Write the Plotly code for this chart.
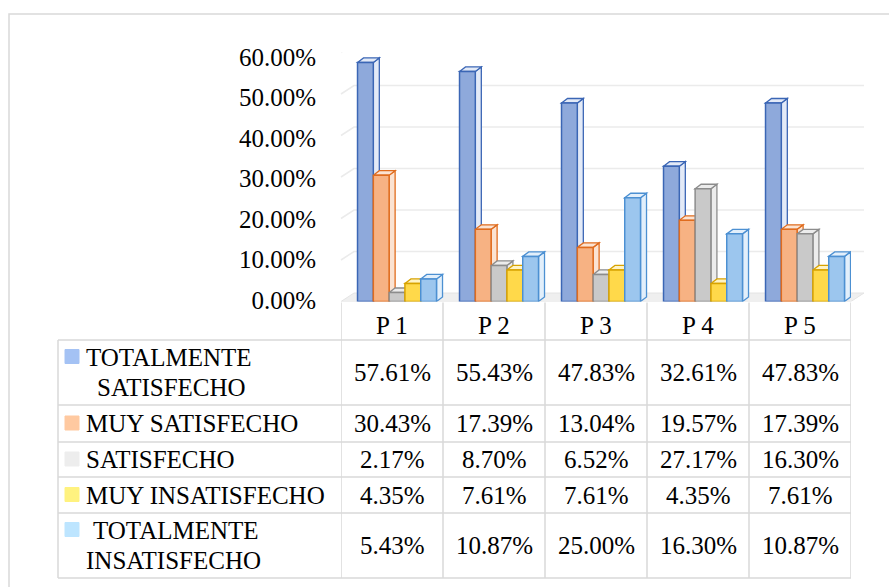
import plotly.graph_objects as go

# ---------------- data ----------------
categories = ["P 1", "P 2", "P 3", "P 4", "P 5"]
series_names = ["TOTALMENTE SATISFECHO", "MUY SATISFECHO", "SATISFECHO",
                "MUY INSATISFECHO", "TOTALMENTE INSATISFECHO"]
totalmente_satisfecho = [0.5761, 0.5543, 0.4783, 0.3261, 0.4783]
muy_satisfecho = [0.3043, 0.1739, 0.1304, 0.1957, 0.1739]
satisfecho = [0.0217, 0.0870, 0.0652, 0.2717, 0.1630]
muy_insatisfecho = [0.0435, 0.0761, 0.0761, 0.0435, 0.0761]
totalmente_insatisfecho = [0.0543, 0.1087, 0.2500, 0.1630, 0.1087]
series_values = [totalmente_satisfecho, muy_satisfecho, satisfecho,
                 muy_insatisfecho, totalmente_insatisfecho]
row_label_lines = [["TOTALMENTE", "SATISFECHO"], ["MUY SATISFECHO"], ["SATISFECHO"],
                   ["MUY INSATISFECHO"], ["TOTALMENTE", "INSATISFECHO"]]
y_tick_values = [0.0, 0.1, 0.2, 0.3, 0.4, 0.5, 0.6]

# ---------------- styles ----------------
front_fill = ["#8EA9DB", "#F7B283", "#C9C9C9", "#FFD94A", "#9CC6EE"]
edge_col = ["#3B66B5", "#E06C1E", "#8C8C8C", "#D8A300", "#4C90D2"]
side_fill = ["#E3EAF7", "#FBE3D2", "#ECECEC", "#FFF3C4", "#E2EFFB"]
key_fill = ["#A4C2F4", "#FFC9A0", "#EDEDED", "#FFF27F", "#BDE5FF"]
FONT = "Liberation Serif, Times New Roman, serif"
GRID = "#D9D9D9"

W, H = 889, 587
PL, PR = 341, 851          # plot area x (px)
PT, PB = 52.5, 301.5       # y px for 0.6 and 0 (bars)
LT, LB = 57, 303           # y px for 0.6 and 0 (tick labels)
YMAX = 0.6
def X(px): return px / W
def Y(py): return 1 - py / H

px_per_cat = (PR - PL) / len(categories)
px_per_val = (PB - PT) / YMAX
lab_px_per_val = (LB - LT) / YMAX
lab_range = [-(LB - PB) / lab_px_per_val, YMAX + (LT - PT) / lab_px_per_val]
bar_w = 15.8 / px_per_cat
off0 = -0.338
dxb = 6 / px_per_cat
dyb = 4.5 / px_per_val
wall_dx = 13
wall_dy = 8.5 / px_per_val

fig = go.Figure()
shapes = []

# floor
shapes.append(dict(type="path", xref="paper", yref="y", layer="below",
                   path=f"M {X(PL)},0 L {X(PR)},0 L {X(PR+wall_dx)},{wall_dy} L {X(PL+wall_dx)},{wall_dy} Z",
                   fillcolor="#EFEFEF", line=dict(color="#E4E4E4", width=1)))
# back wall gridlines
for v in y_tick_values[1:]:
    shapes.append(dict(type="path", xref="paper", yref="y", layer="below",
                       path=f"M {X(PL)},{v} L {X(PL+wall_dx)},{v+wall_dy} L {X(PR+wall_dx)},{v+wall_dy}",
                       line=dict(color="#EBEBEB", width=1.5)))

# bars (front faces from Plotly, 3D side/top faces as shapes under them)
for k, (name, vals) in enumerate(zip(series_names, series_values)):
    off = off0 + k * bar_w
    fig.add_trace(go.Bar(
        x=list(range(len(categories))), y=vals, name=name,
        width=bar_w, offset=off,
        marker=dict(color=front_fill[k], line=dict(color=edge_col[k], width=1.5)),
        showlegend=False))
    for i, v in enumerate(vals):
        xl = i + off
        xr = xl + bar_w
        shapes.append(dict(type="path", xref="x", yref="y", layer="below",
                           path=f"M {xr},0 L {xr+dxb},{dyb} L {xr+dxb},{v+dyb} L {xr},{v} Z",
                           fillcolor=side_fill[k], line=dict(color=edge_col[k], width=1.3)))
        shapes.append(dict(type="path", xref="x", yref="y", layer="below",
                           path=f"M {xl},{v} L {xl+dxb},{v+dyb} L {xr+dxb},{v+dyb} L {xr},{v} Z",
                           fillcolor=side_fill[k], line=dict(color=edge_col[k], width=1.3)))

# invisible trace carrying the tick-label axis
fig.add_trace(go.Scatter(x=[0], y=[0], yaxis="y2", mode="markers",
                         marker=dict(opacity=0), hoverinfo="skip", showlegend=False))

# ---------------- data table ----------------
row_edges = [340, 405, 442, 477, 513, 578]
table_left = 58
for yy in row_edges:
    shapes.append(dict(type="line", xref="paper", yref="paper",
                       x0=X(table_left), x1=X(PR), y0=Y(yy), y1=Y(yy),
                       line=dict(color=GRID, width=1.5)))
shapes.append(dict(type="line", xref="paper", yref="paper",
                   x0=X(table_left), x1=X(table_left), y0=Y(row_edges[0]), y1=Y(row_edges[-1]),
                   line=dict(color=GRID, width=1.5)))
for k in range(len(categories) + 1):
    shapes.append(dict(type="line", xref="x", yref="paper",
                       x0=k - 0.5, x1=k - 0.5, y0=Y(PB + 1), y1=Y(row_edges[-1]),
                       line=dict(color=GRID, width=1.5)))
# outer chart border (right and bottom edges fall outside the picture)
shapes.append(dict(type="rect", xref="paper", yref="paper",
                   x0=X(9), x1=X(905), y0=Y(14), y1=Y(605),
                   line=dict(color=GRID, width=1.5), fillcolor="rgba(0,0,0,0)"))

annotations = []
header_y = 325
for i, c in enumerate(categories):
    annotations.append(dict(x=i, xref="x", y=Y(header_y), yref="paper", text=c,
                            showarrow=False, xanchor="center", yanchor="middle",
                            font=dict(family=FONT, size=25, color="#000000")))
for r, (lines, vals) in enumerate(zip(row_label_lines, series_values)):
    top, bot = row_edges[r], row_edges[r + 1]
    cy = (top + bot) / 2
    for i, v in enumerate(vals):
        annotations.append(dict(x=i, xref="x", y=Y(cy), yref="paper", text=f"{v*100:.2f}%",
                                showarrow=False, xanchor="center", yanchor="middle",
                                font=dict(family=FONT, size=25, color="#000000")))
    if len(lines) == 1:
        line_ys = [cy]
    else:
        line_ys = [cy - 15.5, cy + 14.5]
    indents = {0: [84, 95], 4: [91, 84]}.get(r, [84])
    for j, t in enumerate(lines):
        annotations.append(dict(x=X(indents[j]), xref="paper", y=Y(line_ys[j]), yref="paper",
                                text=t, showarrow=False, xanchor="left", yanchor="middle",
                                font=dict(family=FONT, size=25, color="#000000")))
    key_y = line_ys[0] - 0.5
    shapes.append(dict(type="rect", xref="paper", yref="paper",
                       x0=X(65), x1=X(79), y0=Y(key_y - 7), y1=Y(key_y + 7),
                       fillcolor=key_fill[r], line=dict(color=key_fill[r], width=1)))

fig.update_layout(
    width=W, height=H, autosize=False,
    margin=dict(l=0, r=0, t=0, b=0, pad=0, autoexpand=False),
    paper_bgcolor="#FFFFFF", plot_bgcolor="rgba(0,0,0,0)",
    barmode="overlay", showlegend=False,
    shapes=shapes, annotations=annotations,
    xaxis=dict(domain=[X(PL), X(PR)], range=[-0.5, len(categories) - 0.5], automargin=False,
               showticklabels=False, showgrid=False, zeroline=False, showline=False),
    yaxis=dict(domain=[Y(PB), Y(PT)], range=[0, YMAX], automargin=False,
               showticklabels=False, ticks="",
               showgrid=False, zeroline=False, showline=False),
    yaxis2=dict(overlaying="y", side="left", range=lab_range, automargin=False,
                tickvals=y_tick_values, tickformat=".2%",
                ticks="outside", ticklen=19, tickcolor="rgba(0,0,0,0)",
                showgrid=False, zeroline=False, showline=False,
                tickfont=dict(family=FONT, size=25, color="#000000")),
)

fig.write_html("out.html")
